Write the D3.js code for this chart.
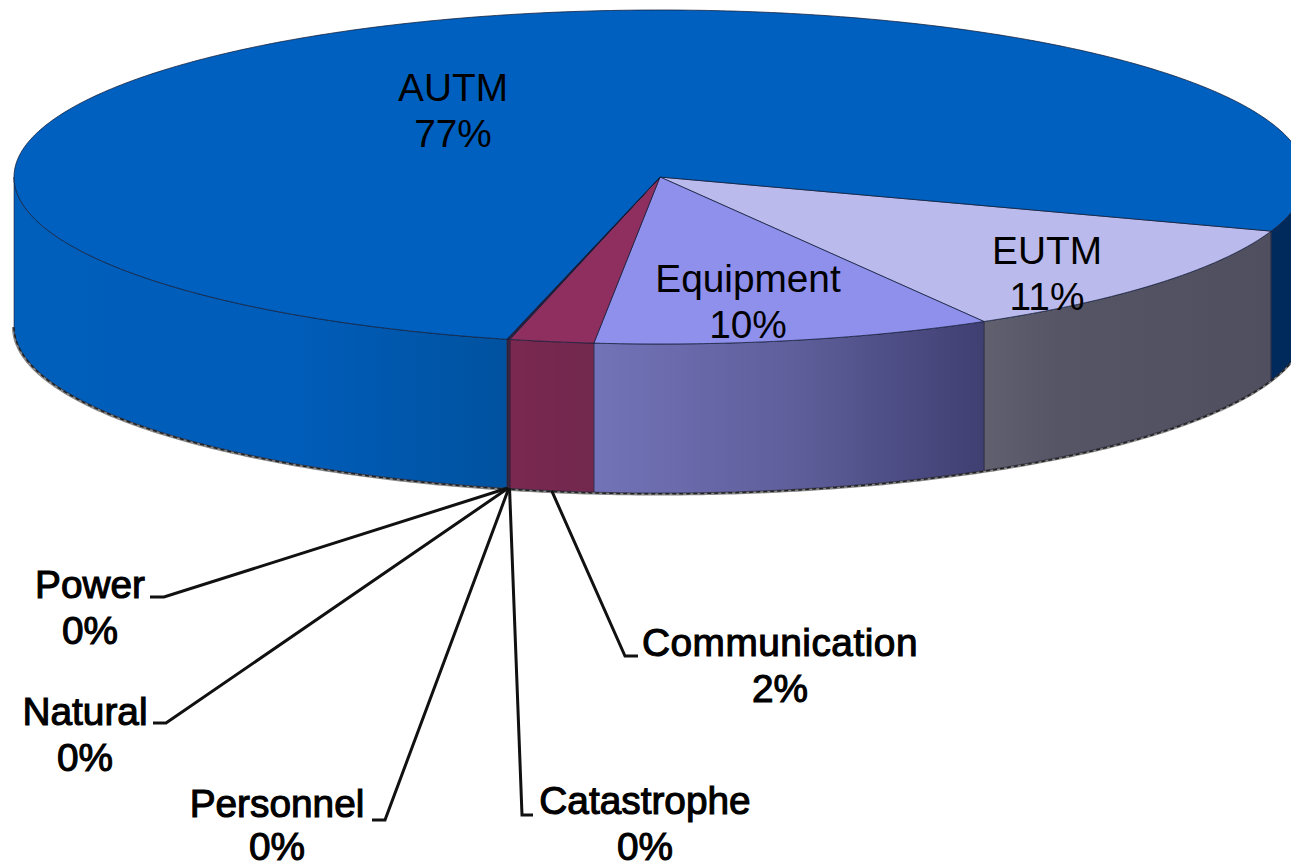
<!DOCTYPE html>
<html>
<head>
<meta charset="utf-8">
<script src="https://cdnjs.cloudflare.com/ajax/libs/d3/7.8.5/d3.min.js"></script>
<style>
  html, body { margin: 0; padding: 0; background: #fff; overflow: hidden; }
  text { font-family: "Liberation Sans", Arial, sans-serif; font-size: 38.8px; fill: #000; text-anchor: middle; }
  .outside text { stroke: #000; stroke-width: 1.1px; }
</style>
</head>
<body>
<div id="chart"></div>
<script>
// Values, clockwise starting at the EUTM slice
var categories = ["EUTM", "Equipment", "Communication", "Catastrophe", "Personnel", "Natural", "Power", "AUTM"];
var shares = [11.4, 10.0, 2.1, 0.02, 0.02, 0.02, 0.02, 76.5];

// Colours per category
var topColours = ["#babaec", "#8f8fec", "#8f2f5f", "#8f2f5f", "#8f2f5f", "#8f2f5f", "#8f2f5f", "#0060bf"];

// Where each label sits; elbow is where the leader line turns (outside labels only)
var labelLayout = {
  AUTM: { x: 453, y: 101, y2: 147 },
  EUTM: { x: 1047, y: 264, y2: 310 },
  Equipment: { x: 748, y: 292, y2: 338 },
  Communication: { x: 780, y: 656, y2: 702, spacing: 0.5, elbow: [625, 656], end: [638, 656] },
  Catastrophe: { x: 645, y: 814, y2: 860, elbow: [522, 815], end: [533, 815] },
  Personnel: { x: 277, y: 817, y2: 860, elbow: [385, 820], end: [372, 820] },
  Natural: { x: 85, y: 725, y2: 771, elbow: [166, 723], end: [153, 723] },
  Power: { x: 90, y: 598, y2: 644, elbow: [164, 597], end: [150, 597] }
};

var width = 1291, height = 868;
var cx = 660, cy = 177, rx = 646, ry = 167, depth = 149;
var startAngle = 108.9 * Math.PI / 180; // EUTM starts on the right, a bit below horizontal

var svg = d3.select("#chart").append("svg")
  .attr("width", width).attr("height", height)
  .style("display", "block");

// Gradients for the walls, in page coordinates
var defs = svg.append("defs");
function addGradient(id, x1, x2, stops) {
  var g = defs.append("linearGradient").attr("id", id)
    .attr("gradientUnits", "userSpaceOnUse")
    .attr("x1", x1).attr("x2", x2).attr("y1", 0).attr("y2", 0);
  stops.forEach(function (s) {
    g.append("stop").attr("offset", s[0]).attr("stop-color", s[1]);
  });
}
addGradient("wallAutm", 14, 510, [[0, "#005fbb"], [0.55, "#005dba"], [1, "#00529f"]]);
addGradient("wallEquipment", 594, 985, [[0, "#7272b8"], [0.5, "#5f5f9c"], [1, "#3f3f72"]]);
addGradient("wallEutm", 985, 1272, [[0, "#60606f"], [0.25, "#555566"], [1, "#4f4f60"]]);
addGradient("wallComm", 510, 594, [[0, "#7a2850"], [1, "#72284e"]]);

var pie = d3.pie().sort(null).value(function (d) { return d; })
  .startAngle(startAngle).endAngle(startAngle + 2 * Math.PI);
var arcs = pie(shares).map(function (a, i) {
  return { name: categories[i], value: a.data, startAngle: a.startAngle, endAngle: a.endAngle, colour: topColours[i] };
});

// The flat circle squashed into an ellipse
var xScale = d3.scaleLinear().domain([-1, 1]).range([cx - rx, cx + rx]);
var yScale = d3.scaleLinear().domain([-1, 1]).range([cy - ry, cy + ry]);
function px(a) { return xScale(Math.sin(a)); }
function py(a) { return yScale(-Math.cos(a)); }

function sampleAngles(a0, a1) {
  var n = Math.max(2, Math.ceil((a1 - a0) / 0.01));
  return d3.range(n + 1).map(function (i) { return a0 + (a1 - a0) * i / n; });
}
var line = d3.line();
function rim(a0, a1, dy) {
  return sampleAngles(a0, a1).map(function (a) { return [px(a), py(a) + dy]; });
}
function wallPath(a0, a1) {
  return line(rim(a0, a1, 0).concat(rim(a0, a1, depth).reverse())) + "Z";
}
function topPath(a0, a1) {
  return line([[cx, cy]].concat(rim(a0, a1, 0))) + "Z";
}

// Walls: only the front half of the rim shows (90deg to 270deg in pie angles)
var frontStart = Math.PI / 2, frontEnd = 3 * Math.PI / 2;
var walls = [];
arcs.forEach(function (d) {
  [0, 2 * Math.PI].forEach(function (turn) {
    var a0 = Math.max(d.startAngle - turn, frontStart);
    var a1 = Math.min(d.endAngle - turn, frontEnd);
    if (a1 > a0) walls.push({ name: d.name, a0: a0, a1: a1 });
  });
});
function wallFill(w) {
  if (w.name == "EUTM") return "url(#wallEutm)";
  if (w.name == "Equipment") return "url(#wallEquipment)";
  if (w.name == "AUTM") return (px(w.a0) > cx && w.a1 < Math.PI) ? "#002a5c" : "url(#wallAutm)";
  return "url(#wallComm)";
}

// Soft grey shadow under the rim
var front = rim(frontStart, frontEnd, depth);
svg.append("path").attr("d", line(front)).attr("fill", "none")
  .attr("stroke", "#888").attr("stroke-width", 3).attr("transform", "translate(-0.5,1)");

svg.selectAll("path.wall").data(walls).enter().append("path")
  .attr("class", "wall")
  .attr("d", function (d) { return wallPath(d.a0, d.a1); })
  .attr("fill", wallFill)
  .attr("stroke", "#1c1c34").attr("stroke-opacity", 0.6).attr("stroke-width", 1);

// Rough dithered look of the bottom edge
svg.append("path").attr("d", line(front)).attr("fill", "none")
  .attr("stroke", "#222").attr("stroke-width", 1.5)
  .attr("stroke-dasharray", "4 3").attr("transform", "translate(0,0.8)");

// Tops
svg.selectAll("path.top").data(arcs).enter().append("path")
  .attr("class", "top")
  .attr("d", function (d) { return topPath(d.startAngle, d.endAngle); })
  .attr("fill", function (d) { return d.colour; })
  .attr("stroke", "#101c38").attr("stroke-opacity", 0.75).attr("stroke-width", 1);

// Leader lines for the labels below the pie
var outside = arcs.filter(function (d) { return labelLayout[d.name].elbow; });
svg.selectAll("path.leader").data(outside).enter().append("path")
  .attr("class", "leader")
  .attr("d", function (d) {
    var mid = (d.startAngle + d.endAngle) / 2, l = labelLayout[d.name];
    return line([[px(mid), py(mid) + depth], l.elbow, l.end]);
  })
  .attr("fill", "none").attr("stroke", "#111").attr("stroke-width", 3);

// Labels, name on top of the rounded percentage
var fmt = d3.format(".0f");
var labels = svg.selectAll("g.label").data(arcs).enter().append("g")
  .attr("class", function (d) { return labelLayout[d.name].elbow ? "label outside" : "label"; });
labels.append("text")
  .attr("x", function (d) { return labelLayout[d.name].x; })
  .attr("y", function (d) { return labelLayout[d.name].y; })
  .style("letter-spacing", function (d) { return (labelLayout[d.name].spacing || 0) + "px"; })
  .text(function (d) { return d.name; });
labels.append("text")
  .attr("x", function (d) { return labelLayout[d.name].x; })
  .attr("y", function (d) { return labelLayout[d.name].y2; })
  .text(function (d) { return fmt(d.value) + "%"; });
</script>
</body>
</html>
